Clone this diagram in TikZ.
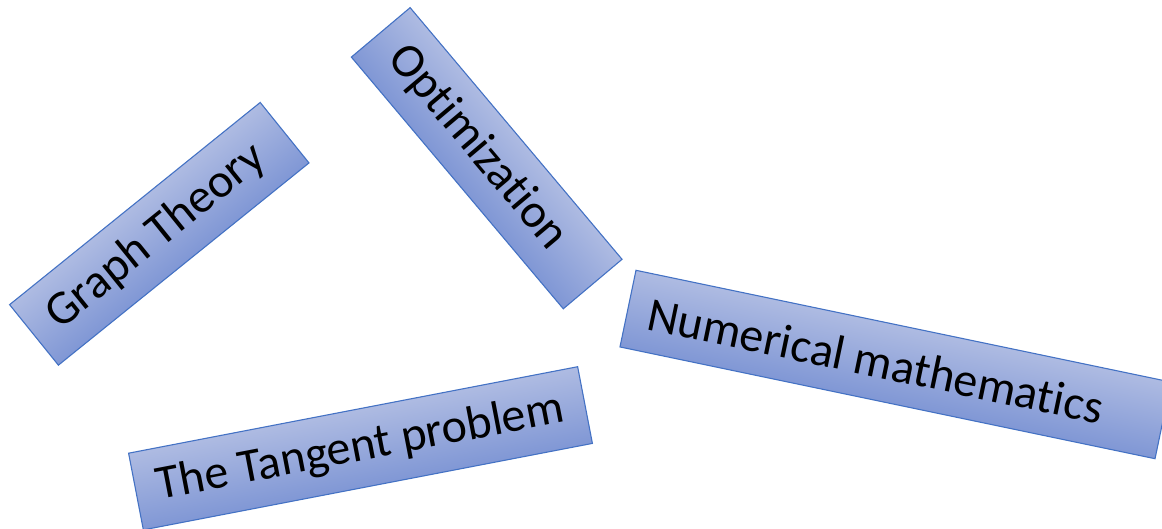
\documentclass[tikz,border=0pt]{standalone}
\usepackage{fontspec}
\setmainfont{Carlito}[Ligatures={NoCommon,NoContextual}]
\definecolor{boxtop}{RGB}{174,187,226}
\definecolor{boxbot}{RGB}{128,151,213}
\definecolor{boxline}{RGB}{68,114,196}
\begin{document}
\begin{tikzpicture}[x=1pt,y=-1pt,
  topic/.style={draw=boxline, line width=1.1pt, rectangle, top color=boxtop, bottom color=boxbot,
    inner sep=0pt, anchor=center, font=\fontsize{48}{58}\selectfont, text=black}]
\useasboundingbox (0,0) rectangle (1162,528);
\clip (0,0) rectangle (1162,528);
\begin{scope}[transform canvas={shift={(159.3,233.8)}, rotate=38.9}]
  \node[topic, minimum width=322pt, minimum height=77.7pt] (gt) at (0,0) {Graph Theory\kern8pt};
\end{scope}
\begin{scope}[transform canvas={shift={(486.7,158.2)}, rotate=-49.9}]
  \node[topic, minimum width=329pt, minimum height=76.8pt] (opt) at (0,0) {Optimization\kern28pt};
\end{scope}
\begin{scope}[transform canvas={shift={(895.5,364.5)}, rotate=-11.8}]
  \node[topic, minimum width=546.6pt, minimum height=78.3pt] (nm) at (0,0) {Numerical mathematics\kern40pt};
\end{scope}
\begin{scope}[transform canvas={shift={(360.5,448.3)}, rotate=10.9}]
  \node[topic, minimum width=457.3pt, minimum height=78.1pt] (tp) at (0,0) {The Tangent problem};
\end{scope}
\end{tikzpicture}
\end{document}
